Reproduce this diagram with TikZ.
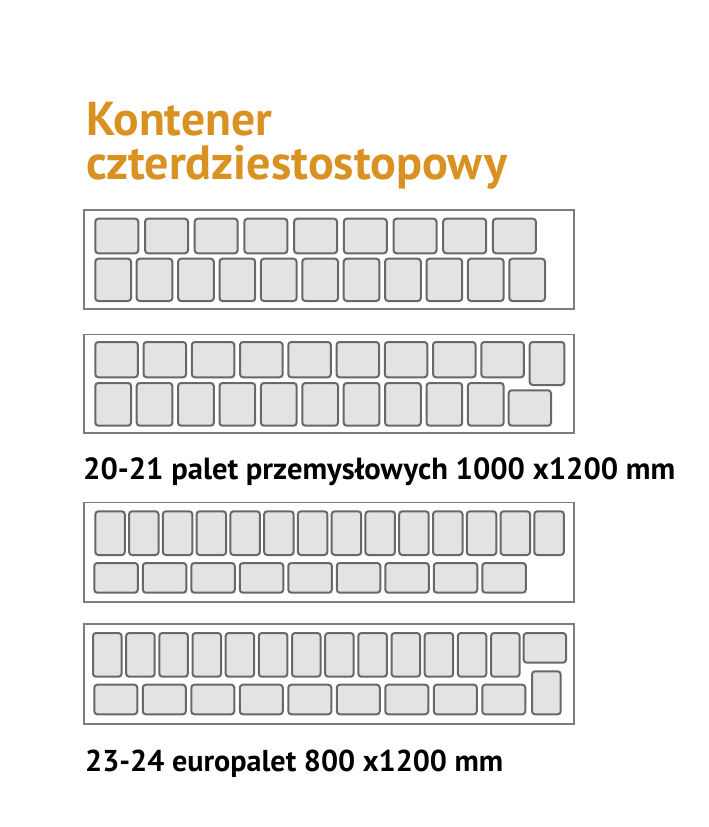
\documentclass[tikz,border=0pt]{standalone}
\usepackage{fontspec}
\setmainfont{PT Sans}
\usepackage{graphicx}
\definecolor{titleorange}{RGB}{217,145,33}
\definecolor{palfill}{RGB}{227,227,227}
\definecolor{paledge}{RGB}{104,104,104}
\definecolor{contedge}{RGB}{125,125,125}
\tikzset{
  pal/.style={draw=paledge, fill=palfill, line width=2pt, rounded corners=3pt, inner sep=0pt, anchor=north west},
  cont/.style={draw=contedge, fill=white, line width=1.8pt, inner sep=0pt, anchor=north west},
  ttl/.style={anchor=base west, inner sep=0pt, text=titleorange, font=\bfseries\fontsize{44}{44}\selectfont},
  lbl/.style={anchor=base west, inner sep=0pt, text=black, font=\bfseries\fontsize{30}{30}\selectfont},
}
% \palrow{prefix}{count}{x0}{pitch}{w}{ytop}{h}
\newcommand{\palrow}[7]{%
  \foreach \i in {1,...,#2} {
    \node[pal, minimum width=#5pt-2pt, minimum height=#7pt-2pt]
      (#1\i) at ({#3+1+(\i-1)*#4}, {#6+1}) {};
  }%
}
% \onepal{name}{x1}{y1}{x2}{y2}
\newcommand{\onepal}[5]{%
  \node[pal, minimum width={#4pt-#2pt-2pt}, minimum height={#5pt-#3pt-2pt}] (#1) at ({#2+1},{#3+1}) {};%
}
\newcommand{\contbox}[5]{%
  \node[cont, minimum width={#4pt-#2pt-1.8pt}, minimum height={#5pt-#3pt-1.8pt}] (#1) at ({#2+0.9},{#3+0.9}) {};%
}
\begin{document}
\begin{tikzpicture}[x=1pt, y=-1pt]
\useasboundingbox (0,0) rectangle (709,827);

% title
\node[ttl] (t1) at (86,135) {\resizebox{186pt}{!}{Kontener}};
\node[ttl] (t2) at (86,179.5) {\resizebox{421pt}{!}{czterdziestostopowy}};

% container 1
\contbox{c1}{82.3}{208.3}{574}{309.3}
\palrow{c1a}{9}{93.3}{49.7}{45}{216.7}{36.6}
\palrow{c1b}{11}{93.3}{41.4}{37.7}{256.7}{44.3}

% container 2
\contbox{c2}{82.3}{332.7}{574}{433.3}
\palrow{c2a}{9}{93.3}{48.25}{44.5}{340}{37.3}
\onepal{c2v}{527.7}{340}{564.3}{385}
\palrow{c2b}{10}{93.3}{41.4}{37.7}{381}{44.7}
\onepal{c2h}{506.7}{388.3}{551}{425.7}

\node[lbl] (l1) at (83,479.3) {\resizebox{592pt}{!}{20-21 palet przemysłowych 1000 x1200 mm}};

% container 3
\contbox{c3}{82.3}{500.7}{574}{601.7}
\palrow{c3a}{14}{93.3}{33.77}{31.5}{509.3}{45.7}
\palrow{c3b}{9}{92.3}{48.5}{45.5}{561}{31.7}

% container 4
\contbox{c4}{82.3}{622.3}{574}{724}
\palrow{c4a}{13}{91}{33.17}{30.5}{631}{45.7}
\onepal{c4h}{521.7}{631}{566}{662.7}
\palrow{c4b}{9}{92.3}{48.5}{45}{682.7}{31.6}
\onepal{c4v}{530}{669.3}{560.7}{714.3}

\node[lbl] (l2) at (85,771) {\resizebox{418pt}{!}{23-24 europalet 800 x1200 mm}};
\end{tikzpicture}
\end{document}
